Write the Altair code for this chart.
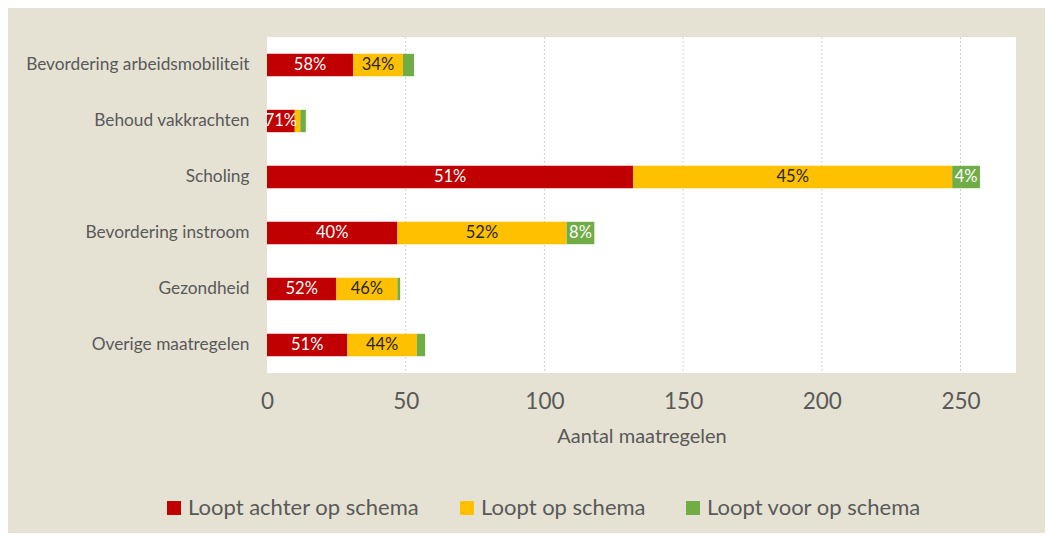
import altair as alt
import pandas as pd

categories = ["Bevordering arbeidsmobiliteit", "Behoud vakkrachten", "Scholing",
              "Bevordering instroom", "Gezondheid", "Overige maatregelen"]
statuses = ["Loopt achter op schema", "Loopt op schema", "Loopt voor op schema"]
achter = [31, 10, 132, 47, 25, 29]
op = [18, 2, 115, 61, 22, 25]
voor = [4, 2, 10, 10, 1, 3]
label_achter = ["58%", "71%", "51%", "40%", "52%", "51%"]
label_op = ["34%", "", "45%", "52%", "46%", "44%"]
label_voor = ["", "", "4%", "8%", "", ""]
x_ticks = [0, 50, 100, 150, 200, 250]
grid_ticks = [50, 100, 150, 200, 250]

colors = ["#C00000", "#FFC000", "#70AD47"]
label_colors = ["#FFFFFF", "#262626", "#FFFFFF"]

rows = []
for i, c in enumerate(categories):
    start = 0
    for s, vals, labs, lc in zip(statuses, [achter, op, voor],
                                 [label_achter, label_op, label_voor], label_colors):
        v = vals[i]
        rows.append({"cat": c, "status": s, "start": start, "end": start + v,
                     "mid": start + v / 2, "label": labs[i], "lc": lc})
        start += v
df = pd.DataFrame(rows)

W, H = 749, 336
FONT = "Lato"
GREY = "#595959"

yscale = alt.Scale(domain=categories, paddingInner=0.6, paddingOuter=0.3)
xscale = alt.Scale(domain=[0, 270], nice=False)

xaxis = alt.Axis(values=x_ticks, grid=False, ticks=False, domain=False,
                 labelFont=FONT, labelFontSize=22.5, labelColor=GREY,
                 labelPadding=17, labelFlush=False, titleFont=FONT,
                 titleFontSize=20, titleColor=GREY, titleFontWeight="normal",
                 titlePadding=14, zindex=1)
yaxis = alt.Axis(labelFont=FONT, labelFontSize=17.3, labelColor=GREY,
                 ticks=False, domain=False, labelPadding=18, zindex=1,
                 labelLimit=300)

bg = alt.Chart(pd.DataFrame({"a": [0]})).mark_rect(color="#E5E2D4").encode(
    x=alt.value(8 - 267), x2=alt.value(1045 - 267),
    y=alt.value(8 - 37), y2=alt.value(533 - 37))
plotbg = alt.Chart(pd.DataFrame({"a": [0]})).mark_rect(color="#FFFFFF").encode(
    x=alt.value(0), x2=alt.value(W), y=alt.value(0), y2=alt.value(H))

grid = alt.Chart(pd.DataFrame({"t": grid_ticks})).mark_rule(
    color="#D0D0D0", strokeDash=[2, 2], strokeWidth=1).encode(
    x=alt.X("t:Q", scale=xscale, title="Aantal maatregelen", axis=xaxis))

bars = alt.Chart(df).mark_bar(cornerRadius=0).encode(
    y=alt.Y("cat:N", scale=yscale, title=None, axis=yaxis),
    x=alt.X("start:Q", scale=xscale, title="Aantal maatregelen", axis=xaxis),
    x2="end:Q",
    color=alt.Color("status:N", scale=alt.Scale(domain=statuses, range=colors),
                    legend=alt.Legend(orient="none", direction="horizontal",
                                      legendX=-104, legendY=460, title=None,
                                      symbolType="square", symbolSize=196,
                                      symbolStrokeWidth=0, labelFont=FONT,
                                      labelFontSize=22, labelColor=GREY,
                                      labelOffset=3, columnPadding=36,
                                      zindex=1, labelLimit=400)),
)

text = alt.Chart(df).mark_text(font=FONT, fontSize=16.5, baseline="middle",
                               align="center").encode(
    y=alt.Y("cat:N", scale=yscale, title=None, axis=yaxis),
    x=alt.X("mid:Q", scale=xscale, title="Aantal maatregelen", axis=xaxis),
    text="label:N",
    color=alt.Color("lc:N", scale=None),
)

chart = alt.layer(bg, plotbg, grid, bars, text).properties(
    width=W, height=H,
    padding={"left": 267, "top": 37, "right": 38, "bottom": 168},
    autosize=alt.AutoSizeParams(type="none"),
    background="#FFFFFF",
).configure_view(stroke=None)

chart.save("out.html", embed_options={"renderer": "svg", "actions": False})
